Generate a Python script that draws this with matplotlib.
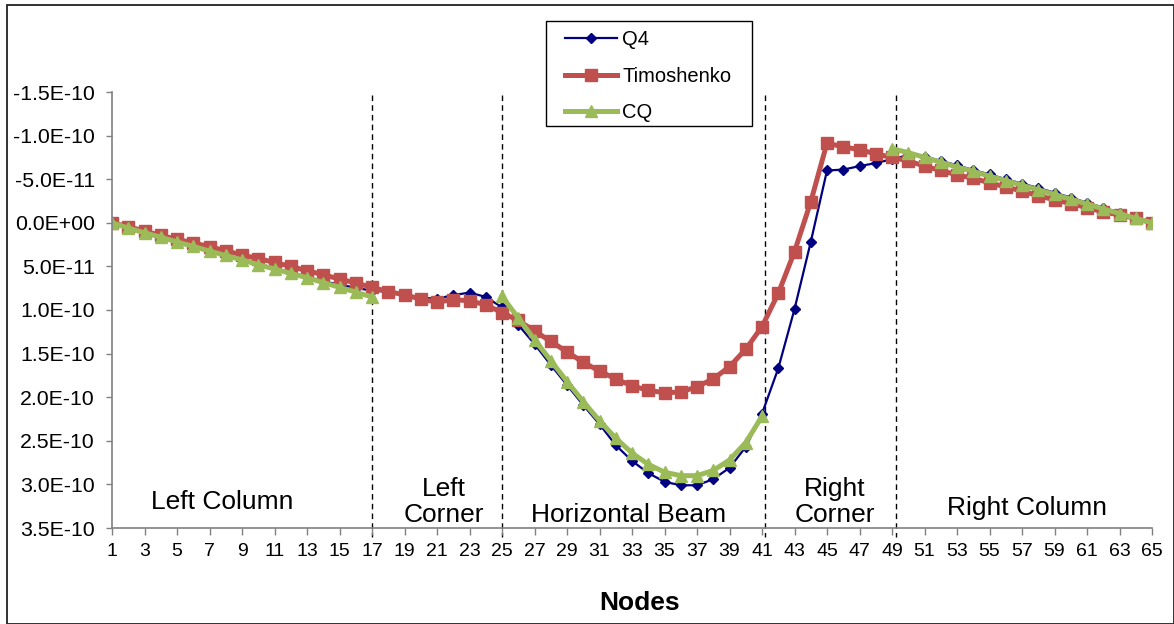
import numpy as np
import matplotlib.pyplot as plt
from matplotlib.patches import Rectangle
from matplotlib.ticker import FuncFormatter, MultipleLocator

plt.rcParams['font.family'] = ['Liberation Sans', 'DejaVu Sans']

# node numbers along the frame
nodes = np.arange(1, 66)

# vertical displacement at each node (units of 1e-11)
q4 = [0.0, 0.6, 1.15, 1.65, 2.2, 2.7, 3.2, 3.7, 4.2, 4.7, 5.2, 5.7, 6.2, 6.7, 7.1, 7.45, 7.8,
      7.9, 8.2, 8.6, 8.7, 8.3, 8.0, 8.5, 9.7, 11.7, 13.9, 16.3, 18.6, 20.9, 23.1, 25.5, 27.3,
      28.7, 29.7, 30.1, 30.1, 29.4, 28.1, 25.7, 21.9, 16.7, 9.9, 2.2, -6.0, -6.1, -6.5, -6.85,
      -7.3, -7.75, -7.6, -7.1, -6.6, -6.05, -5.55, -5.0, -4.5, -4.0, -3.45, -2.9, -2.3, -1.75,
      -1.15, -0.55, 0.0]

timoshenko = [0.0, 0.45, 0.95, 1.45, 1.9, 2.3, 2.75, 3.2, 3.7, 4.1, 4.55, 5.0, 5.5, 5.95, 6.45, 6.9, 7.4,
              7.9, 8.25, 8.75, 9.1, 8.8, 8.95, 9.4, 10.3, 11.2, 12.4, 13.6, 14.8, 16.0, 17.0, 17.9, 18.7,
              19.2, 19.5, 19.4, 18.8, 17.9, 16.5, 14.5, 11.9, 8.1, 3.3, -2.4, -9.15, -8.7, -8.4, -7.9,
              -7.5, -7.1, -6.5, -6.0, -5.5, -5.1, -4.6, -4.1, -3.65, -3.1, -2.65, -2.2, -1.75, -1.25,
              -0.9, -0.5, 0.0]

nan = np.nan
cq = [0.0, 0.6, 1.15, 1.65, 2.2, 2.7, 3.25, 3.75, 4.25, 4.8, 5.3, 5.8, 6.3, 6.85, 7.4, 7.95, 8.5,
      nan, nan, nan, nan, nan, nan, nan, 8.45, 10.9, 13.4, 15.8, 18.2, 20.5, 22.7, 24.7, 26.4,
      27.7, 28.6, 29.0, 29.0, 28.4, 27.2, 25.2, 22.2, nan, nan, nan, nan, nan, nan, nan,
      -8.5, -8.05, -7.5, -6.95, -6.4, -5.9, -5.35, -4.85, -4.3, -3.8, -3.25, -2.7, -2.15, -1.6,
      -1.05, -0.5, 0.0]

scale = 1e-11
q4 = np.array(q4) * scale
timoshenko = np.array(timoshenko) * scale
cq = np.array(cq) * scale

# section boundaries and section names
boundaries = [17, 25, 41.2, 49.25]
sections = ["Left Column", "Left\nCorner", "Horizontal Beam", "Right\nCorner", "Right Column"]
section_x = [7.8, 21.4, 32.8, 45.5, 57.3]
section_y = [3.2e-10, 3.2e-10, 3.35e-10, 3.2e-10, 3.27e-10]

W, H = 1174, 624
fig = plt.figure(figsize=(W / 100, H / 100), dpi=100)
ax = fig.add_axes([112 / W, 96 / H, 1040 / W, 436 / H])

ax.plot(nodes, q4, color='#000080', lw=1.6, marker='D', ms=5.5, mec='#000080', label='Q4')
ax.plot(nodes, timoshenko, color='#C0504D', lw=3.6, marker='s', ms=8.5, mec='#C0504D',
        label='Timoshenko')
ax.plot(nodes, cq, color='#9BBB59', lw=3.6, marker='^', ms=8, mec='#9BBB59', label='CQ')

for b in boundaries:
    ax.plot([b, b], [-1.47e-10, 3.6e-10], color='black', lw=1, ls=(0, (4, 3)),
            clip_on=False, zorder=1)

for name, x, y in zip(sections, section_x, section_y):
    ax.text(x, y, name, ha='center', va='center', fontsize=19, linespacing=1.1)

ax.set_xlim(1, 65)
ax.set_ylim(3.5e-10, -1.5e-10)
ax.set_xticks(np.arange(1, 66, 2))
ax.yaxis.set_major_locator(MultipleLocator(5e-11))
ax.yaxis.set_major_formatter(FuncFormatter(lambda v, p: f"{v:.1E}"))

for side in ['top', 'right']:
    ax.spines[side].set_visible(False)
for side in ['left', 'bottom']:
    ax.spines[side].set_color('#808080')
    ax.spines[side].set_linewidth(1.2)
ax.tick_params(axis='y', direction='out', length=4.5, width=1, color='#808080',
               labelsize=15.3, pad=8)
ax.tick_params(axis='x', direction='out', length=5, width=1, color='#808080',
               labelsize=14, pad=6)

fig.text(640 / W, 1 - 603 / H, "Nodes", ha='center', va='center', fontsize=19,
         fontweight='bold')

# legend entries without their own frame, boxed separately
fig.legend(loc='upper left', bbox_to_anchor=(565 / W, 1 - 30 / H), fontsize=14.5,
           numpoints=1, handlelength=2.6, handletextpad=0.25, labelspacing=0.88,
           borderpad=0, borderaxespad=0, frameon=False)
fig.patches.append(Rectangle((546 / W, 1 - 126 / H), 206 / W, 105 / H,
                             transform=fig.transFigure, facecolor='white',
                             edgecolor='black', lw=1, zorder=2.5))

# chart border
fig.patches.append(Rectangle((7 / W, 0.5 / H), (W - 7.5) / W, (H - 5.5) / H,
                             transform=fig.transFigure, fill=False, edgecolor='#222222',
                             lw=1.3))

fig.savefig('out.png', dpi=100)
